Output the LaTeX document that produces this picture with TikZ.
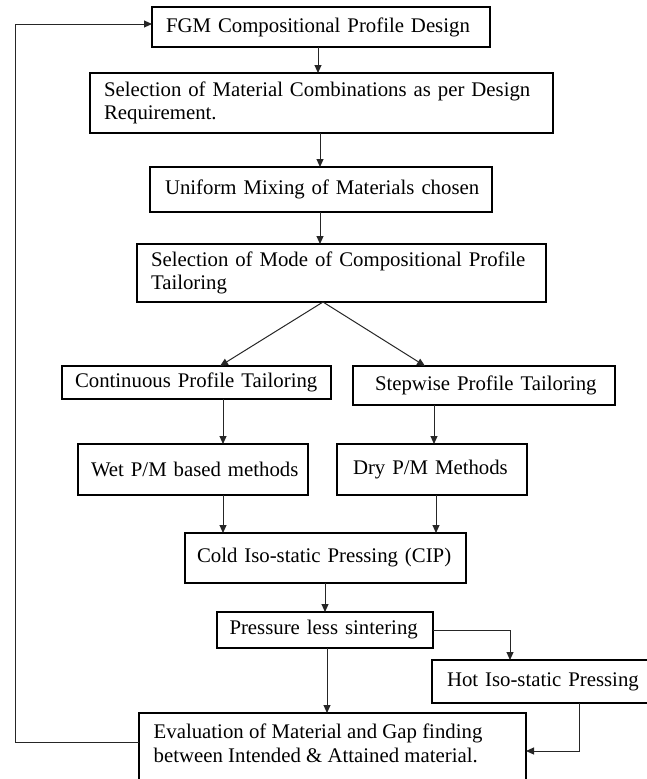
\documentclass[tikz,border=0pt]{standalone}
\usepackage{fontspec}
\setmainfont{Liberation Serif}
\usetikzlibrary{arrows.meta,calc}
\begin{document}
\begin{tikzpicture}[x=1pt,y=-1pt,
  box/.style={draw=black, line width=1.2pt, rectangle, anchor=north west, inner ysep=0pt, outer sep=0pt,
    font=\fontsize{20.8}{23.5}\selectfont, align=left},
  txt/.style={inner sep=0pt, font=\fontsize{20.8}{23.5}\selectfont, align=left},
  conn/.style={draw=black!85, line width=1pt, -{Triangle[length=8pt,width=7pt]}},
  line/.style={draw=black!85, line width=1pt}
]
\useasboundingbox (0,0) rectangle (647,779);

\node[box, minimum width=338, minimum height=40, inner xsep=14, text width=310] (fgm) at (152,7)
  {\mbox{FGM Compositional Profile Design}};
\node[box, minimum width=463, minimum height=60, inner xsep=14, text width=435] (sel) at (90,73)
  {\makebox[435pt][s]{Selection of Material Combinations as per Design}\\Requirement.};
\node[box, minimum width=342, minimum height=45, inner xsep=15, text width=312] (uni) at (150,167)
  {\mbox{Uniform Mixing of Materials chosen}};
\node[box, minimum width=409, minimum height=58, inner xsep=14, text width=381] (mode) at (137,244)
  {\mbox{Selection of Mode of Compositional Profile}\\Tailoring};
\node[box, minimum width=269, minimum height=33, inner xsep=13, text width=243] (cont) at (62,366)
  {\mbox{Continuous Profile Tailoring}};
\node[box, minimum width=262, minimum height=39, inner xsep=22, text width=218] (stepw) at (353,366)
  {\mbox{Stepwise Profile Tailoring}};
\node[box, minimum width=230, minimum height=51, inner xsep=13, text width=204] (wet) at (78,444)
  {\mbox{Wet P/M based methods}};
\node[box, minimum width=190, minimum height=51, inner xsep=16, text width=158] (dry) at (337,444)
  {\mbox{Dry P/M Methods}};
\node[box, minimum width=281, minimum height=50, inner xsep=12, text width=257] (cold) at (185,533)
  {\mbox{Cold Iso-static Pressing (CIP)}};
\node[box, minimum width=216, minimum height=36, inner xsep=12.5, text width=191] (press) at (217,612)
  {\mbox{Pressure less sintering}};
\node[box, minimum width=217, minimum height=43, inner xsep=15, text width=187] (hot) at (432,660)
  {\mbox{Hot Iso-static Pressing}};
\node[box, minimum width=387, minimum height=68] (eval) at (139,713) {};
\node[txt, anchor=west] (evaltxt) at ([xshift=14.5pt, yshift=-30.5pt]eval.north west)
  {Evaluation of Material and Gap finding\\between Intended \& Attained material.};

\coordinate (loopc) at (15,24);

\draw[conn] (fgm.south west) ++(166,0) -- ([xshift=228]sel.north west);
\draw[conn] ([xshift=230]sel.south west) -- ([xshift=170]uni.north west);
\draw[conn] ([xshift=170]uni.south west) -- ([xshift=183]mode.north west);
\draw[conn] ([xshift=186]mode.south west) -- ([xshift=158]cont.north west);
\draw[conn] ([xshift=186]mode.south west) -- ([xshift=72]stepw.north west);
\draw[conn] ([xshift=161]cont.south west) -- ([xshift=145]wet.north west);
\draw[conn] ([xshift=81]stepw.south west) -- ([xshift=97]dry.north west);
\draw[conn] ([xshift=145]wet.south west) -- ([xshift=38]cold.north west);
\draw[conn] ([xshift=99]dry.south west) -- ([xshift=251]cold.north west);
\draw[conn] ([xshift=140]cold.south west) -- ([xshift=108]press.north west);
\draw[conn] ([xshift=110]press.south west) -- ([xshift=188]eval.north west);
\draw[conn] (press.east) -| ([xshift=78]hot.north west);
\draw[conn] ([xshift=147]hot.south west) |- ([yshift=-38]eval.north east);
\draw[conn] ([yshift=-29]eval.north west) -| (loopc) -- ([yshift=-17]fgm.north west);
\end{tikzpicture}
\end{document}
